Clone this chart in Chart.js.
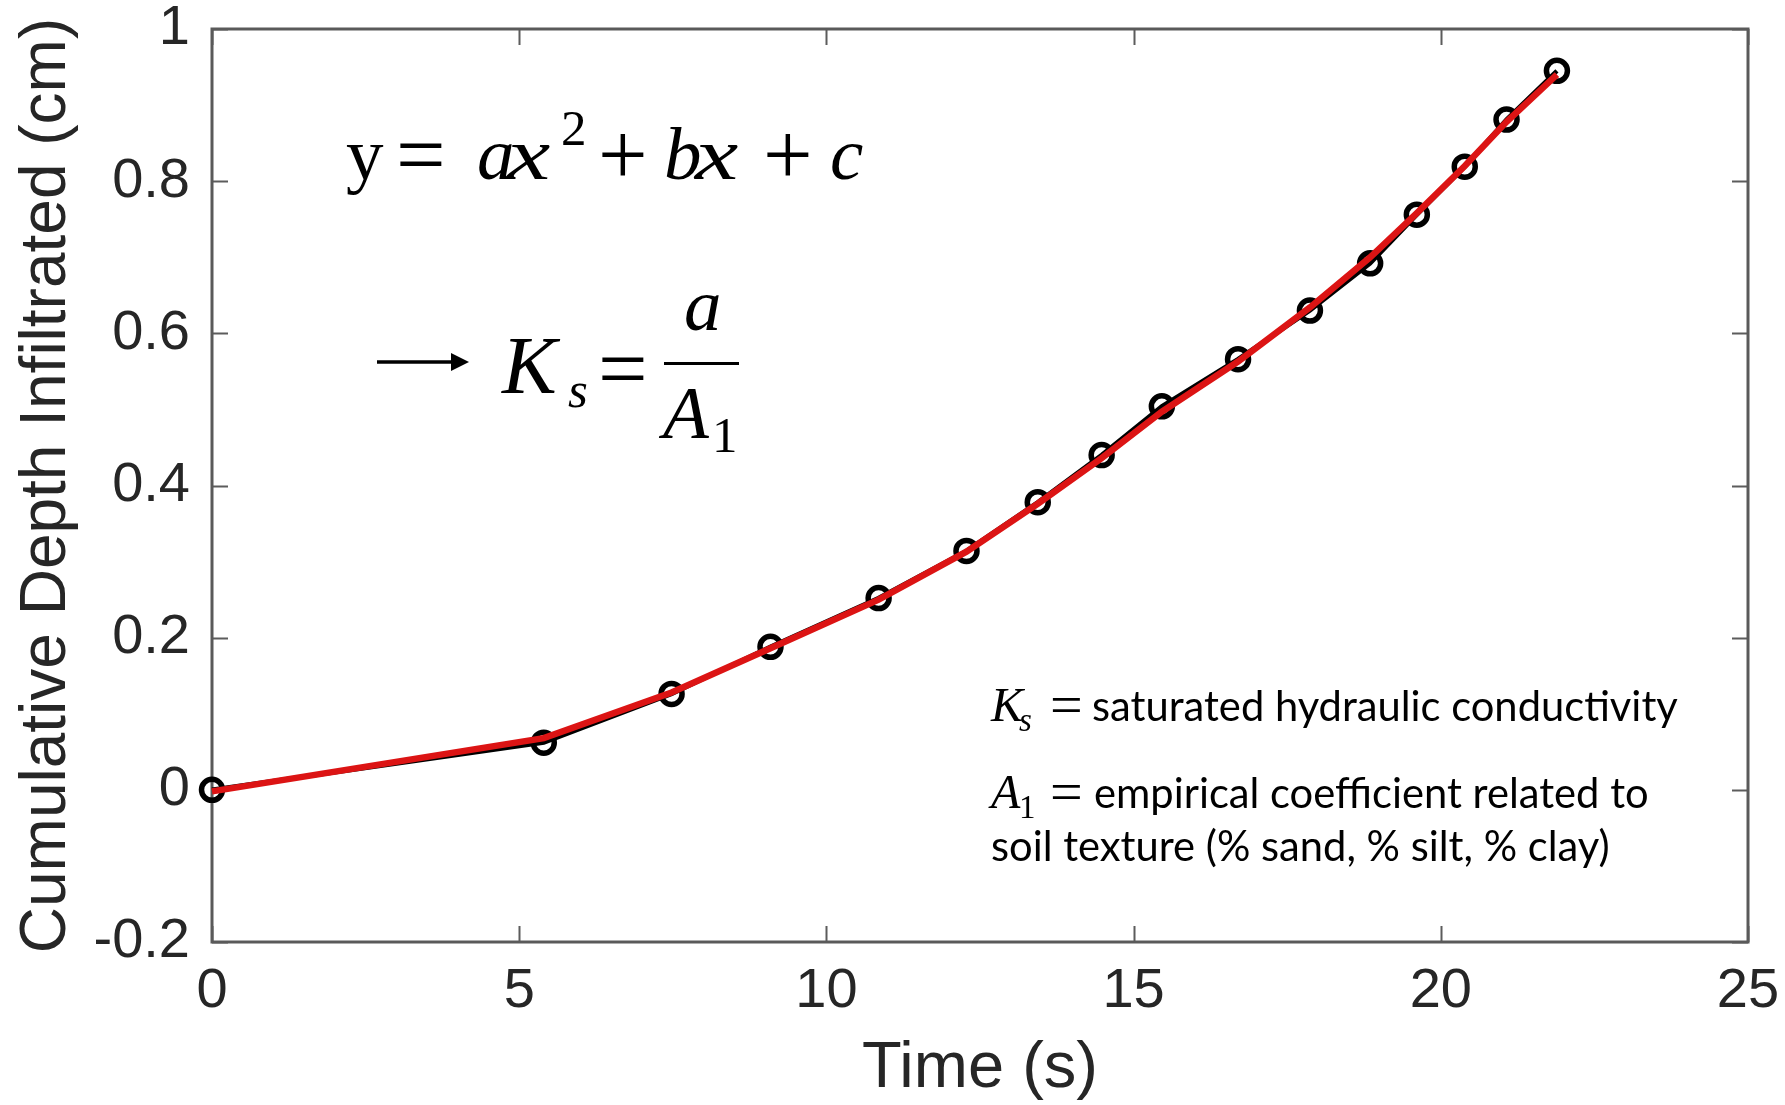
<!DOCTYPE html>
<html>
<head>
<meta charset="utf-8">
<script src="https://cdn.jsdelivr.net/npm/chart.js@4.4.1/dist/chart.umd.min.js"></script>
<style>
  html, body { margin: 0; padding: 0; background: #fff; }
  canvas { display: block; }
</style>
</head>
<body>
<canvas id="chart" width="1785" height="1105"></canvas>
<script>
// measured points (time in s, depth in cm)
const times = [0, 5.4, 7.48, 9.09, 10.85, 12.28, 13.44, 14.48, 15.46, 16.70, 17.87, 18.85, 19.61, 20.39, 21.07, 21.89];
const depth = [0, 0.062, 0.126, 0.188, 0.252, 0.314, 0.378, 0.440, 0.504, 0.566, 0.630, 0.692, 0.756, 0.819, 0.881, 0.945];
// red fitted curve, read at the same times
const fitDepth = [-0.002, 0.068, 0.128, 0.186, 0.250, 0.313, 0.376, 0.436, 0.497, 0.563, 0.634, 0.700, 0.758, 0.820, 0.878, 0.940];

const xRange = [0, 25];
const yRange = [-0.2, 1];
const xStep = 5;
const yStep = 0.2;

const axisFont = "'Liberation Sans', Arial, sans-serif";
const mathFont = "'Liberation Serif', 'Times New Roman', serif";
const noteFont = "Lato, 'Open Sans', sans-serif";

function toPoints(xs, ys) {
  return xs.map((x, i) => ({ x: x, y: ys[i] }));
}

// box round the plot with inward ticks on all four sides
const framePlugin = {
  id: "frame",
  beforeDatasetsDraw(chart) {
    const ctx = chart.ctx;
    const a = chart.chartArea;
    const sx = chart.scales.x, sy = chart.scales.y;
    ctx.save();
    ctx.strokeStyle = "#5c5c5c";
    ctx.lineWidth = 2;
    sx.ticks.forEach(t => {
      const px = Math.round(sx.getPixelForValue(t.value)) + 0.5;
      ctx.beginPath();
      ctx.moveTo(px, a.bottom); ctx.lineTo(px, a.bottom - 16);
      ctx.moveTo(px, a.top); ctx.lineTo(px, a.top + 16);
      ctx.stroke();
    });
    sy.ticks.forEach(t => {
      const py = Math.round(sy.getPixelForValue(t.value)) + 0.5;
      ctx.beginPath();
      ctx.moveTo(a.left, py); ctx.lineTo(a.left + 16, py);
      ctx.moveTo(a.right, py); ctx.lineTo(a.right - 16, py);
      ctx.stroke();
    });
    ctx.lineWidth = 3;
    ctx.strokeStyle = "#5a5a5a";
    ctx.strokeRect(a.left, a.top, a.right - a.left, a.bottom - a.top);
    ctx.restore();
  }
};

// equations and notes written on the plot
const notesPlugin = {
  id: "notes",
  afterDraw(chart) {
    const ctx = chart.ctx;
    ctx.save();
    ctx.fillStyle = "#000";
    ctx.textBaseline = "alphabetic";
    ctx.textAlign = "left";

    const M = 75;
    const up = M + "px " + mathFont;
    const op = "88px " + mathFont;
    const it = "italic " + M + "px " + mathFont;
    const sup = Math.round(M * 0.68) + "px " + mathFont;
    const supIt = "italic " + Math.round(M * 0.68) + "px " + mathFont;

    function put(str, x, y, font, stretch) {
      ctx.font = font;
      if (stretch) {
        ctx.save();
        ctx.translate(x, y);
        ctx.scale(stretch, 1);
        ctx.fillText(str, 0, 0);
        ctx.restore();
      } else {
        ctx.fillText(str, x, y);
      }
    }

    // y = ax^2 + bx + c
    let b = 179;
    put("y", 346, b, up);
    put("=", 396, b + 5, op);
    put("a", 477, b, it);
    put("x", 507, b, it, 1.3);
    put("2", 561, b - 34, sup);
    put("+", 598, b + 5, op);
    put("b", 664, b, it);
    put("x", 695, b, it, 1.3);
    put("+", 763, b + 5, op);
    put("c", 830, b, it);

    // arrow
    ctx.strokeStyle = "#000";
    ctx.lineWidth = 3.5;
    ctx.beginPath();
    ctx.moveTo(377, 362); ctx.lineTo(458, 362);
    ctx.stroke();
    ctx.beginPath();
    ctx.moveTo(469, 362); ctx.lineTo(451, 353); ctx.lineTo(451, 371); ctx.closePath();
    ctx.fill();

    // K_s = a / A_1
    b = 393;
    put("K", 502, b, "italic 82px " + mathFont);
    put("s", 568, b + 14, supIt);
    put("=", 598, b + 5, op);
    ctx.fillRect(664, 362, 75, 3);
    put("a", 684, 330, it);
    put("A", 663, 438, it);
    put("1", 712, 452, sup);

    // notes, lower right
    ctx.font = "100px " + noteFont;
    const fs = 100 * 586 / ctx.measureText("saturated hydraulic conductivity").width;
    const note = fs + "px " + noteFont;
    const nIt = "italic " + Math.round(fs * 1.15) + "px " + mathFont;
    const nOp = Math.round(fs * 1.4) + "px " + mathFont;
    const nSub = "italic " + Math.round(fs * 0.8) + "px " + mathFont;
    const nSubUp = Math.round(fs * 0.8) + "px " + mathFont;

    put("K", 991, 721, nIt);
    put("s", 1019, 731, nSub);
    put("=", 1050, 724, nOp);
    put("saturated hydraulic conductivity", 1092, 721, note);

    put("A", 991, 808, nIt);
    put("1", 1019, 818, nSubUp);
    put("=", 1050, 811, nOp);
    put("empirical coefficient related to", 1094, 808, note);

    put("soil texture (% sand, % silt, % clay)", 991, 861, note);
    ctx.restore();
  }
};

new Chart(document.getElementById("chart"), {
  type: "scatter",
  data: {
    datasets: [
      {
        label: "fit",
        data: toPoints(times, fitDepth),
        showLine: true,
        borderColor: "#dc1414",
        borderWidth: 6.5,
        pointRadius: 0,
        fill: false,
        clip: false
      },
      {
        label: "measured",
        data: toPoints(times, depth),
        showLine: true,
        borderColor: "#000",
        borderWidth: 4.5,
        pointRadius: 10.5,
        pointBorderWidth: 5.5,
        pointBorderColor: "#000",
        pointBackgroundColor: "rgba(0,0,0,0)",
        fill: false,
        clip: false
      }
    ]
  },
  options: {
    responsive: false,
    devicePixelRatio: 1,
    animation: false,
    layout: { padding: 0 },
    plugins: {
      legend: { display: false },
      tooltip: { enabled: false }
    },
    scales: {
      x: {
        type: "linear",
        min: xRange[0], max: xRange[1],
        grid: { display: false, drawTicks: false },
        border: { display: false },
        ticks: {
          stepSize: xStep,
          padding: 22,
          color: "#262626",
          font: { family: axisFont, size: 56, lineHeight: 1 },
          maxRotation: 0,
          callback: v => String(Math.round(v * 10) / 10)
        },
        title: {
          display: true,
          text: "Time (s)",
          color: "#262626",
          font: { family: axisFont, size: 65, lineHeight: 1 },
          padding: { top: 0, bottom: 3 }
        },
        afterFit: s => {
          s.height = 163;
          s.paddingLeft = 0;
          s.paddingRight = 37;
        }
      },
      y: {
        type: "linear",
        min: yRange[0], max: yRange[1],
        grid: { display: false, drawTicks: false },
        border: { display: false },
        ticks: {
          stepSize: yStep,
          padding: 22,
          color: "#262626",
          font: { family: axisFont, size: 56, lineHeight: 1 },
          callback: v => String(Math.round(v * 10) / 10)
        },
        title: {
          display: true,
          text: "Cumulative Depth Infiltrated (cm)",
          color: "#262626",
          font: { family: axisFont, size: 64, lineHeight: 1 },
          padding: { top: 15, bottom: 0 }
        },
        afterFit: s => {
          s.width = 212;
          s.paddingTop = 29;
          s.paddingBottom = 0;
        }
      }
    }
  },
  plugins: [framePlugin, notesPlugin]
});
</script>
</body>
</html>
